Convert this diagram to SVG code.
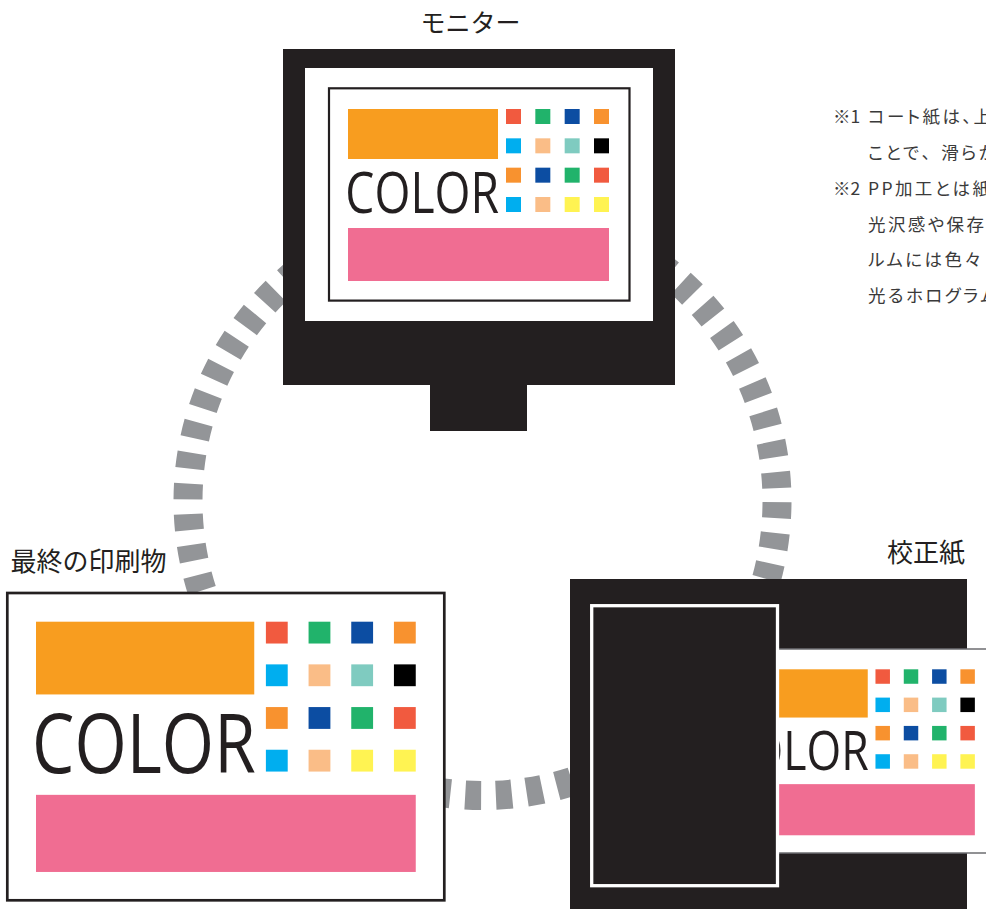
<svg xmlns="http://www.w3.org/2000/svg" xmlns:xlink="http://www.w3.org/1999/xlink" width="986" height="909" viewBox="0 0 986 909">
  <style>
    .lbl { font-family: "Noto Sans CJK JP", "Noto Sans", sans-serif; font-size: 26px; fill: #231f20; }
    .note { font-family: "Noto Sans CJK JP", "Noto Sans", sans-serif; font-size: 17.5px; fill: #3a3a3a; letter-spacing: 2.4px; font-feature-settings: "palt"; }
    .mark { letter-spacing: 0; }
    .full { font-feature-settings: normal; }
    .word { font-family: "Open Sans", "Liberation Sans", sans-serif; font-size: 56px; fill: #231f20; }
    .ink { fill: #231f20; }
    .ring { fill: none; stroke: #939598; stroke-width: 29; stroke-dasharray: 16 14.84; stroke-dashoffset: -1.2; }
    .red { fill: #f15a3f; } .grn { fill: #21b36b; } .blu { fill: #0c4da2; } .org { fill: #f8922f; }
    .cya { fill: #00aeef; } .pea { fill: #fabd87; } .tea { fill: #7fcbc0; } .blk { fill: #000000; }
    .yel { fill: #fff352; }
  </style>
  <defs>
    <!-- shared colour card: orange block, COLOR word, 4x4 swatches, pink block -->
    <g id="card-art">
      <rect x="0" y="0" width="150" height="50" fill="#f89d1f"/>
      <text class="word" x="-2.7" y="104" textLength="153.7" lengthAdjust="spacingAndGlyphs">COLOR</text>
      <g transform="translate(158 0)">
        <rect class="red" x="0" y="0" width="15" height="15"/>
        <rect class="grn" x="29.33" y="0" width="15" height="15"/>
        <rect class="blu" x="58.67" y="0" width="15" height="15"/>
        <rect class="org" x="88" y="0" width="15" height="15"/>
        <rect class="cya" x="0" y="29.33" width="15" height="15"/>
        <rect class="pea" x="29.33" y="29.33" width="15" height="15"/>
        <rect class="tea" x="58.67" y="29.33" width="15" height="15"/>
        <rect class="blk" x="88" y="29.33" width="15" height="15"/>
        <rect class="org" x="0" y="58.67" width="15" height="15"/>
        <rect class="blu" x="29.33" y="58.67" width="15" height="15"/>
        <rect class="grn" x="58.67" y="58.67" width="15" height="15"/>
        <rect class="red" x="88" y="58.67" width="15" height="15"/>
        <rect class="cya" x="0" y="88" width="15" height="15"/>
        <rect class="pea" x="29.33" y="88" width="15" height="15"/>
        <rect class="yel" x="58.67" y="88" width="15" height="15"/>
        <rect class="yel" x="88" y="88" width="15" height="15"/>
      </g>
      <rect x="0" y="119" width="261" height="53" fill="#f06d92"/>
    </g>
  </defs>

  <rect width="986" height="909" fill="#ffffff"/>

  <!-- dashed loop linking the three outputs -->
  <g id="connectors">
    <circle class="ring" cx="482.5" cy="501" r="294.5"/>
  </g>

  <!-- monitor -->
  <g id="monitor">
    <text class="lbl" x="420.5" y="31.5" style="font-size:25px">モニター</text>
    <rect class="ink" x="283" y="49" width="392" height="336"/>
    <rect class="ink" x="430" y="384" width="97" height="47"/>
    <rect x="305" y="68" width="348" height="253" fill="#ffffff"/>
    <rect x="329" y="88.3" width="300.5" height="212.3" fill="#ffffff" stroke="#231f20" stroke-width="2.2"/>
    <use xlink:href="#card-art" transform="translate(348 109)"/>
  </g>

  <!-- final printed piece -->
  <g id="final-print">
    <text class="lbl" x="10.5" y="571">最終の印刷物</text>
    <rect x="7.3" y="593" width="437" height="307.3" fill="#ffffff" stroke="#231f20" stroke-width="2.7"/>
    <use xlink:href="#card-art" transform="translate(36 621.7) scale(1.455)"/>
  </g>

  <!-- proof sheet coming out of the printer -->
  <g id="proof">
    <text class="lbl" x="887" y="562">校正紙</text>
    <rect class="ink" x="570" y="579" width="397" height="330"/>
    <rect x="700" y="649" width="300" height="204" fill="#ffffff" stroke="#6d6e71" stroke-width="1.5"/>
    <use xlink:href="#card-art" transform="translate(723 669.3) scale(0.965)"/>
    <rect class="ink" x="591.7" y="605.7" width="185.8" height="280" stroke="#ffffff" stroke-width="3.3"/>
  </g>

  <!-- footnotes -->
  <g id="notes">
    <text class="note mark" x="833" y="123">※1</text>
    <text class="note" x="868" y="123">コート紙は、上</text>
    <text class="note" x="868" y="159">ことで<tspan class="full">、</tspan>滑らか</text>
    <text class="note mark" x="833" y="194.5">※2</text>
    <text class="note" x="868" y="194.5">PP加工とは紙</text>
    <text class="note" x="868" y="230.5">光沢感や保存</text>
    <text class="note" x="868" y="266">ルムには色々</text>
    <text class="note" x="868" y="302">光るホログラム</text>
  </g>
</svg>
